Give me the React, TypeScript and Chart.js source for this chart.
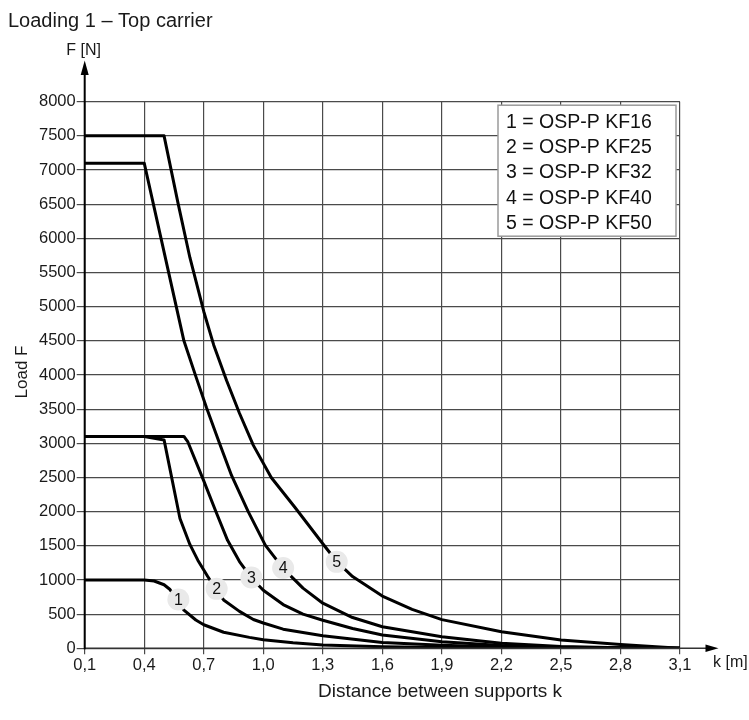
import React, { useEffect, useRef } from "react";
import { Chart, registerables } from "chart.js";

Chart.register(...registerables);

// ---- data ----
const xTicks = [0.1, 0.4, 0.7, 1.0, 1.3, 1.6, 1.9, 2.2, 2.5, 2.8, 3.1];
const yMin = 0;
const yMax = 8000;
const yStep = 500;

const seriesNames = ["OSP-P KF16", "OSP-P KF25", "OSP-P KF32", "OSP-P KF40", "OSP-P KF50"];

const k1X = [0.1, 0.4, 0.45, 0.5, 0.53, 0.6, 0.66, 0.7, 0.8, 0.93, 1.0, 1.15, 1.3, 1.6, 1.9, 2.2, 2.5, 3.1];
const k1Y = [1000, 1000, 985, 930, 860, 560, 414, 345, 235, 160, 125, 80, 50, 22, 12, 6, 3, 0];

const k2X = [0.1, 0.4, 0.5, 0.58, 0.63, 0.67, 0.72, 0.76, 0.8, 0.88, 0.95, 1.0, 1.1, 1.3, 1.6, 1.9, 2.2, 2.5, 3.1];
const k2Y = [3100, 3100, 3050, 1900, 1520, 1290, 1050, 870, 707, 540, 422, 370, 280, 185, 85, 45, 20, 10, 0];

const k3X = [0.1, 0.6, 0.62, 0.7, 0.76, 0.82, 0.88, 0.94, 1.0, 1.1, 1.2, 1.3, 1.45, 1.6, 1.9, 2.2, 2.5, 2.8, 3.1];
const k3Y = [3100, 3100, 3020, 2450, 2010, 1580, 1270, 1030, 850, 640, 500, 410, 290, 195, 97, 40, 15, 5, 0];

const k4X = [0.1, 0.4, 0.6, 0.66, 0.714, 0.777, 0.84, 0.924, 1.01, 1.1, 1.2, 1.3, 1.45, 1.6, 1.9, 2.2, 2.5, 2.8, 3.1];
const k4Y = [7100, 7100, 4500, 3980, 3520, 3020, 2530, 2000, 1510, 1170, 880, 660, 450, 316, 170, 75, 25, 8, 0];

const k5X = [0.1, 0.5, 0.57, 0.63, 0.7, 0.75, 0.815, 0.88, 0.95, 1.04, 1.16, 1.3, 1.37, 1.45, 1.6, 1.75, 1.9, 2.2, 2.5, 2.8, 3.1];
const k5Y = [7500, 7500, 6520, 5720, 4930, 4440, 3920, 3440, 2970, 2500, 2060, 1530, 1270, 1050, 765, 570, 420, 243, 121, 55, 0];

// curve number markers (data units)
const markerX = [0.572, 0.765, 0.94, 1.1, 1.37];
const markerY = [715, 870, 1035, 1175, 1265];

const seriesX = [k1X, k2X, k3X, k4X, k5X];
const seriesY = [k1Y, k2Y, k3Y, k4Y, k5Y];

const FONT = '"Liberation Sans", Arial, sans-serif';

const overlayPlugin = {
  id: "overlay",
  afterDatasetsDraw(chart: any) {
    const ctx = chart.ctx;
    const xs = chart.scales.x;
    const ys = chart.scales.y;
    const { left, right, top, bottom } = chart.chartArea;

    ctx.save();
    // number markers
    ctx.textAlign = "center";
    ctx.textBaseline = "middle";
    ctx.font = `16px ${FONT}`;
    for (let i = 0; i < markerX.length; i++) {
      const px = xs.getPixelForValue(markerX[i]);
      const py = ys.getPixelForValue(markerY[i]);
      ctx.beginPath();
      ctx.arc(px, py, 11, 0, Math.PI * 2);
      ctx.fillStyle = "#e9e9e9";
      ctx.fill();
      ctx.fillStyle = "#111";
      ctx.fillText(String(i + 1), px, py + 1);
    }

    // legend box
    const bw = 178;
    const bh = 131;
    const bx = right - 4 - bw;
    const by = top + 3.5;
    ctx.fillStyle = "#fff";
    ctx.fillRect(bx, by, bw, bh);
    ctx.strokeStyle = "#9a9a9a";
    ctx.lineWidth = 1.5;
    ctx.strokeRect(bx, by, bw, bh);
    ctx.fillStyle = "#111";
    ctx.textAlign = "left";
    ctx.textBaseline = "middle";
    ctx.font = `19.5px ${FONT}`;
    seriesNames.forEach((n, i) => {
      ctx.fillText(`${i + 1} = ${n}`, bx + 8, by + 17 + i * 25.4);
    });

    // x axis with arrow
    ctx.strokeStyle = "#333";
    ctx.lineWidth = 1.5;
    ctx.beginPath();
    ctx.moveTo(left, bottom);
    ctx.lineTo(712, bottom);
    ctx.stroke();
    ctx.fillStyle = "#000";
    ctx.beginPath();
    ctx.moveTo(718.5, bottom);
    ctx.lineTo(705.5, bottom - 3.8);
    ctx.lineTo(705.5, bottom + 3.8);
    ctx.closePath();
    ctx.fill();

    // y axis with arrow
    ctx.strokeStyle = "#000";
    ctx.lineWidth = 2;
    ctx.beginPath();
    ctx.moveTo(left, bottom + 1);
    ctx.lineTo(left, 70);
    ctx.stroke();
    ctx.beginPath();
    ctx.moveTo(left, 60.5);
    ctx.lineTo(left - 4, 75);
    ctx.lineTo(left + 4, 75);
    ctx.closePath();
    ctx.fill();

    // texts
    ctx.fillStyle = "#1a1a1a";
    ctx.textAlign = "left";
    ctx.textBaseline = "alphabetic";
    ctx.font = `20px ${FONT}`;
    ctx.fillText("Loading 1 \u2013 Top carrier", 8, 26.7);

    ctx.textAlign = "center";
    ctx.font = `16px ${FONT}`;
    ctx.fillText("F [N]", left - 1, 55);

    ctx.textAlign = "left";
    ctx.textBaseline = "middle";
    ctx.fillText("k [m]", right + 33, 663);

    ctx.textAlign = "center";
    ctx.font = `19px ${FONT}`;
    ctx.fillText("Distance between supports k", 440, 692);

    ctx.save();
    ctx.translate(22, 372);
    ctx.rotate(-Math.PI / 2);
    ctx.font = `17px ${FONT}`;
    ctx.fillText("Load F", 0, 0);
    ctx.restore();

    ctx.restore();
  },
};

export default function App() {
  const canvasRef = useRef<HTMLCanvasElement | null>(null);

  useEffect(() => {
    if (!canvasRef.current) return;
    const datasets = seriesX.map((xsArr, si) => ({
      label: seriesNames[si],
      data: xsArr.map((x, i) => ({ x, y: seriesY[si][i] })),
      borderColor: "#000",
      borderWidth: 3,
      pointRadius: 0,
      tension: 0,
      fill: false,
      borderJoinStyle: "round" as const,
      borderCapStyle: "round" as const,
    }));

    const gridColor = "#4a4a4a";
    const chart = new Chart(canvasRef.current, {
      type: "line",
      data: { datasets },
      options: {
        responsive: false,
        animation: false,
        events: [],
        layout: { padding: { top: 101.7, right: 69, left: 0, bottom: 0 } },
        plugins: {
          legend: { display: false },
          tooltip: { enabled: false },
          title: { display: false },
        },
        scales: {
          x: {
            type: "linear",
            min: xTicks[0],
            max: xTicks[xTicks.length - 1],
            afterBuildTicks: (s: any) => {
              s.ticks = xTicks.map((v) => ({ value: v }));
            },
            afterFit: (s: any) => {
              s.height = 71.7;
            },
            border: { display: false },
            grid: { color: gridColor, lineWidth: 1.2, tickLength: 6, drawTicks: true },
            ticks: {
              autoSkip: false,
              maxRotation: 0,
              padding: 1,
              color: "#1a1a1a",
              font: { family: FONT, size: 16.5 },
              callback: (v: any) => Number(v).toFixed(1).replace(".", ","),
            },
          },
          y: {
            type: "linear",
            min: yMin,
            max: yMax,
            afterFit: (s: any) => {
              s.width = 84.7;
            },
            border: { display: false },
            grid: { color: gridColor, lineWidth: 1.2, tickLength: 8, drawTicks: true },
            ticks: {
              stepSize: yStep,
              autoSkip: false,
              padding: 1,
              color: "#1a1a1a",
              font: { family: FONT, size: 16.5 },
              callback: (v: any) => String(v),
            },
          },
        },
      },
      plugins: [overlayPlugin],
    });
    return () => chart.destroy();
  }, []);

  return (
    <div style={{ position: "absolute", left: 0, top: 0, width: 749, height: 720, background: "#fff" }}>
      <canvas ref={canvasRef} width={749} height={720} />
    </div>
  );
}
